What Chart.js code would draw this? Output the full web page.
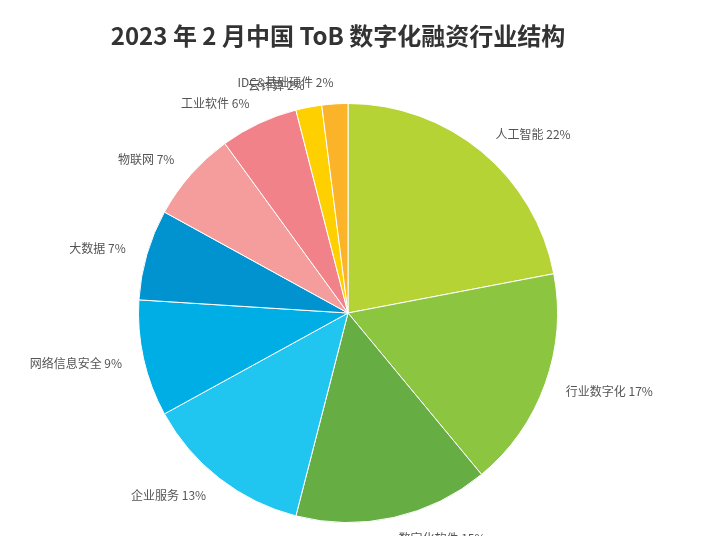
<!DOCTYPE html>
<html><head><meta charset="utf-8">
<script src="https://cdn.jsdelivr.net/npm/chart.js@4"></script>
<style>html,body{margin:0;background:#fff}#wrap{width:709px;height:536px}</style>
</head><body><div id="wrap"><canvas id="c"></canvas></div>
<script>
const labels = ['人工智能', '行业数字化', '数字化软件', '企业服务', '网络信息安全', '大数据', '物联网', '工业软件', '云计算', 'IDC&基础硬件'];
const values = [22, 17, 15, 13, 9, 7, 7, 6, 2, 2];
const colors = ['#b5d334', '#8cc540', '#66ad44', '#20c5f0', '#00aee6', '#0093cf', '#f59d9d', '#f2828a', '#ffd000', '#fbb32a'];
const title = '2023 年 2 月中国 ToB 数字化融资行业结构';

const outLabels = {
  id: 'outLabels',
  afterDraw(chart) {
    const ctx = chart.ctx;
    ctx.save();
    ctx.fillStyle = '#333';
    ctx.font = 'bold 24px "Noto Sans CJK SC", sans-serif';
    ctx.textAlign = 'center';
    ctx.textBaseline = 'middle';
    ctx.fillText(title, 338, 36);
    ctx.font = '12px "Noto Sans CJK SC", sans-serif';
    ctx.fillStyle = '#555';
    chart.getDatasetMeta(0).data.forEach((arc, i) => {
      const a = (arc.startAngle + arc.endAngle) / 2;
      const r = arc.outerRadius + 22;
      const x = arc.x + r * Math.cos(a), y = arc.y + r * Math.sin(a);
      ctx.textAlign = Math.cos(a) >= 0 ? 'left' : 'right';
      ctx.fillText(labels[i] + ' ' + values[i] + '%', x, y);
    });
    ctx.restore();
  }
};

new Chart(document.getElementById('c'), {
  type: 'pie',
  data: { labels, datasets: [{ data: values, backgroundColor: colors, borderColor: '#fff', borderWidth: 1 }] },
  options: {
    responsive: true, maintainAspectRatio: false, animation: false,
    layout: { padding: { top: 103, bottom: 13, left: 138, right: 151 } },
    plugins: { legend: { display: false }, tooltip: { enabled: false } }
  },
  plugins: [outLabels]
});
</script></body></html>
